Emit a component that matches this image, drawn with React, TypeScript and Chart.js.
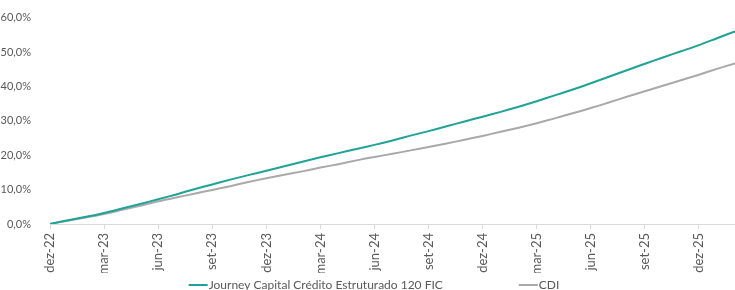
import React, { useEffect, useRef } from "react";
import { Chart, registerables } from "chart.js";

Chart.register(...registerables);

const months: string[] = [
  "dez-22", "jan-23", "fev-23", "mar-23", "abr-23", "mai-23", "jun-23", "jul-23", "ago-23", "set-23", "out-23", "nov-23",
  "dez-23", "jan-24", "fev-24", "mar-24", "abr-24", "mai-24", "jun-24", "jul-24", "ago-24", "set-24", "out-24", "nov-24",
  "dez-24", "jan-25", "fev-25", "mar-25", "abr-25", "mai-25", "jun-25", "jul-25", "ago-25", "set-25", "out-25", "nov-25",
  "dez-25", "jan-26", "fev-26",
];

const journey: number[] = [
  0, 1.1, 2.1, 3.2, 4.5, 5.8, 7.2, 8.6, 10.1, 11.5, 12.9, 14.2,
  15.5, 16.8, 18.1, 19.4, 20.6, 21.8, 23.0, 24.3, 25.7, 27.0, 28.4, 29.8,
  31.2, 32.6, 34.1, 35.7, 37.4, 39.1, 40.9, 42.8, 44.7, 46.6, 48.4, 50.2,
  52.0, 54.0, 56.0,
];

const cdi: number[] = [
  0, 0.95, 1.9, 2.9, 4.1, 5.3, 6.6, 7.7, 8.8, 9.9, 11.0, 12.2,
  13.3, 14.3, 15.3, 16.4, 17.4, 18.5, 19.5, 20.4, 21.4, 22.4, 23.4, 24.5,
  25.6, 26.8, 28.0, 29.3, 30.7, 32.2, 33.7, 35.3, 37.0, 38.6, 40.2, 41.8,
  43.4, 45.1, 46.7,
];

const seriesNames: string[] = ["Journey Capital Crédito Estruturado 120 FIC", "CDI"];
const yTicks: number[] = [0, 10, 20, 30, 40, 50, 60];

const FONT = "Lato, Calibri, 'DejaVu Sans', sans-serif";
const TEAL = "#1FA396";
const GRAY = "#ABA8A8";

const legendPlugin = {
  id: "customLegend",
  afterDraw(chart: any) {
    const ctx = chart.ctx as CanvasRenderingContext2D;
    ctx.save();
    ctx.font = `12px ${FONT}`;
    const lineW = 19;
    const gap = 1;
    const itemGap = 76;
    const items = chart.data.datasets.map((d: any) => ({
      label: d.label as string,
      color: d.borderColor as string,
      w: lineW + gap + ctx.measureText(d.label).width,
    }));
    const total = items.reduce((s: number, it: any) => s + it.w, 0) + itemGap * (items.length - 1);
    let x = 374 - total / 2;
    const y = 285;
    for (const it of items) {
      ctx.strokeStyle = it.color;
      ctx.lineWidth = 2;
      ctx.beginPath();
      ctx.moveTo(x, y);
      ctx.lineTo(x + lineW, y);
      ctx.stroke();
      ctx.fillStyle = "#595959";
      ctx.textBaseline = "middle";
      ctx.textAlign = "left";
      ctx.fillText(it.label, x + lineW + gap, y);
      x += it.w + itemGap;
    }
    ctx.restore();
  },
};

export default function App() {
  const ref = useRef<HTMLCanvasElement | null>(null);

  useEffect(() => {
    if (!ref.current) return;
    const chart = new Chart(ref.current, {
      type: "line",
      data: {
        labels: months,
        datasets: [
          {
            label: seriesNames[0],
            data: journey,
            borderColor: TEAL,
            backgroundColor: TEAL,
            borderWidth: 2,
            pointRadius: 0,
            tension: 0.3,
          },
          {
            label: seriesNames[1],
            data: cdi,
            borderColor: GRAY,
            backgroundColor: GRAY,
            borderWidth: 2,
            pointRadius: 0,
            tension: 0.3,
          },
        ],
      },
      options: {
        responsive: false,
        animation: false,
        layout: { padding: { top: 17, left: 0, right: 0, bottom: 17 } },
        plugins: {
          legend: { display: false },
          tooltip: { enabled: false },
        },
        scales: {
          x: {
            type: "category",
            offset: false,
            border: { display: true, color: "#D9D9D9", width: 1 },
            grid: {
              display: true,
              drawOnChartArea: false,
              drawTicks: true,
              tickLength: 5,
              color: (c: any) => (c.index % 3 === 0 ? "#D9D9D9" : "rgba(0,0,0,0)"),
            },
            ticks: {
              autoSkip: false,
              maxRotation: 90,
              minRotation: 90,
              padding: 4,
              color: "#595959",
              font: { family: FONT, size: 13 },
              callback: (_v: any, i: number) => (i % 3 === 0 ? months[i] : ""),
            },
            afterFit: (s: any) => {
              s.height = 49;
              s.paddingLeft = 0;
              s.paddingRight = 0;
            },
          },
          y: {
            min: 0,
            max: 60,
            border: { display: false },
            grid: { display: false },
            afterBuildTicks: (s: any) => {
              s.ticks = yTicks.map((v) => ({ value: v }));
            },
            ticks: {
              padding: 11,
              color: "#595959",
              font: { family: FONT, size: 11 },
              callback: (v: any) => `${Number(v).toFixed(1).replace(".", ",")}%`,
            },
            afterFit: (s: any) => {
              s.width = 50;
            },
          },
        },
      },
      plugins: [legendPlugin],
    });
    return () => chart.destroy();
  }, []);

  return (
    <div style={{ position: "fixed", left: 0, top: 0, width: 735, height: 290, background: "#fff" }}>
      <canvas ref={ref} width={735} height={290} style={{ display: "block" }} />
    </div>
  );
}
